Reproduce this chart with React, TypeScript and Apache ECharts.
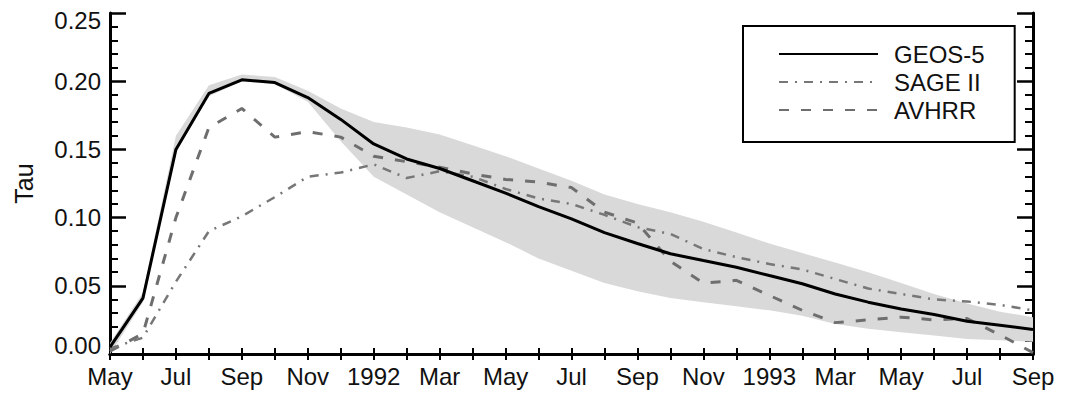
import React, { useEffect, useRef } from "react";
import * as echarts from "echarts";

const months = [
  "May", "Jun", "Jul", "Aug", "Sep", "Oct", "Nov", "Dec",
  "1992", "Feb", "Mar", "Apr", "May", "Jun", "Jul", "Aug", "Sep", "Oct", "Nov", "Dec",
  "1993", "Feb", "Mar", "Apr", "May", "Jun", "Jul", "Aug", "Sep",
];

const geos5 = [
  0.005, 0.041, 0.150, 0.191, 0.201, 0.199, 0.188, 0.172,
  0.154, 0.143, 0.136, 0.127, 0.118, 0.108, 0.099, 0.089, 0.081, 0.0735, 0.0685, 0.0636,
  0.0575, 0.0515, 0.044, 0.038, 0.033, 0.029, 0.024, 0.021, 0.018,
];

const sage2 = [
  0.004, 0.012, 0.053, 0.090, 0.101, 0.115, 0.130, 0.133,
  0.139, 0.129, 0.134, 0.130, 0.121, 0.114, 0.110, 0.102, 0.093, 0.088, 0.077, 0.071,
  0.066, 0.062, 0.055, 0.048, 0.044, 0.040, 0.0385, 0.036, 0.032,
];

const avhrr = [
  0.002, 0.015, 0.100, 0.166, 0.180, 0.159, 0.163, 0.159,
  0.145, 0.141, 0.137, 0.132, 0.128, 0.126, 0.122, 0.104, 0.096, 0.068, 0.052, 0.054,
  0.043, 0.032, 0.023, 0.025, 0.027, 0.025, 0.026, 0.014, 0.001,
];

const bandLower = [
  0.000, 0.038, 0.148, 0.189, 0.200, 0.198, 0.185, 0.156,
  0.130, 0.117, 0.104, 0.093, 0.082, 0.070, 0.061, 0.052, 0.046, 0.041, 0.038, 0.035,
  0.032, 0.028, 0.022, 0.0185, 0.016, 0.0136, 0.011, 0.010, 0.009,
];

const bandUpper = [
  0.008, 0.045, 0.160, 0.197, 0.205, 0.203, 0.193, 0.180,
  0.170, 0.166, 0.161, 0.153, 0.145, 0.136, 0.127, 0.117, 0.110, 0.104, 0.097, 0.089,
  0.081, 0.074, 0.067, 0.060, 0.052, 0.044, 0.037, 0.031, 0.027,
];

const FONT = "'Liberation Sans', Arial, Helvetica, sans-serif";

export default function App() {
  const ref = useRef<HTMLDivElement>(null);

  useEffect(() => {
    if (!ref.current) return;
    const chart = echarts.init(ref.current, undefined, { renderer: "svg" });
    const bandDiff = bandUpper.map((u, i) => +(u - bandLower[i]).toFixed(4));

    const option: any = {
      animation: false,
      backgroundColor: "#ffffff",
      textStyle: { fontFamily: FONT },
      grid: { left: 110, right: 36, top: 13, bottom: 43, containLabel: false },
      legend: {
        orient: "vertical",
        left: 743,
        top: 26,
        data: ["GEOS-5", "SAGE II", "AVHRR"],
        itemWidth: 99,
        itemHeight: 14,
        itemGap: 0,
        padding: [14, 30, 18, 35],
        borderColor: "#000",
        borderWidth: 2,
        borderRadius: 0,
        selectedMode: false,
        itemStyle: { opacity: 0, borderWidth: 0 },
        textStyle: {
          fontFamily: FONT,
          fontSize: 24,
          lineHeight: 28,
          color: "#111",
          padding: [0, 0, 0, 11],
        },
      },
      xAxis: [
        {
          type: "category",
          data: months,
          boundaryGap: false,
          position: "bottom",
          axisLine: { lineStyle: { color: "#000", width: 3 } },
          axisTick: { inside: true, length: 6, interval: 0, lineStyle: { width: 2, color: "#000" } },
          axisLabel: {
            interval: 1,
            margin: 10,
            fontSize: 24,
            fontFamily: FONT,
            color: "#111",
          },
          splitLine: { show: false },
        },
        {
          type: "category",
          data: months,
          boundaryGap: false,
          position: "top",
          axisLine: { lineStyle: { color: "#000", width: 3 } },
          axisTick: { inside: true, length: 6, interval: 0, lineStyle: { width: 2, color: "#000" } },
          axisLabel: { show: false },
          splitLine: { show: false },
        },
      ],
      yAxis: [
        {
          type: "value",
          min: 0,
          max: 0.25,
          interval: 0.05,
          position: "left",
          name: "Tau",
          nameLocation: "middle",
          nameGap: 74,
          nameRotate: 90,
          nameTextStyle: { fontSize: 25, fontFamily: FONT, color: "#111" },
          axisLine: { show: true, lineStyle: { color: "#000", width: 3 } },
          axisTick: { show: true, inside: true, length: 16, lineStyle: { width: 2.5, color: "#000" } },
          minorTick: { show: true, splitNumber: 5, length: 8, lineStyle: { width: 2, color: "#000" } },
          axisLabel: {
            margin: 9,
            fontSize: 24,
            fontFamily: FONT,
            color: "#111",
            formatter: (v: number) => {
              const s = v.toFixed(2);
              if (v === 0) return "{low|" + s + "}";
              if (Math.abs(v - 0.25) < 1e-9) return "{high|" + s + "}";
              return s;
            },
            rich: {
              low: { fontSize: 24, fontFamily: FONT, color: "#111", padding: [0, 0, 17, 0] },
              high: { fontSize: 24, fontFamily: FONT, color: "#111", padding: [15, 0, 0, 0] },
            },
          },
          splitLine: { show: false },
        },
        {
          type: "value",
          min: 0,
          max: 0.25,
          interval: 0.05,
          position: "right",
          axisLine: { show: true, lineStyle: { color: "#000", width: 3 } },
          axisTick: { show: true, inside: true, length: 16, lineStyle: { width: 2.5, color: "#000" } },
          minorTick: { show: true, splitNumber: 5, length: 8, lineStyle: { width: 2, color: "#000" } },
          axisLabel: { show: false },
          splitLine: { show: false },
        },
      ],
      series: [
        {
          name: "bandBase",
          type: "line",
          data: bandLower,
          stack: "band",
          symbol: "none",
          silent: true,
          lineStyle: { opacity: 0, width: 0 },
          z: 1,
        },
        {
          name: "bandFill",
          type: "line",
          data: bandDiff,
          stack: "band",
          symbol: "none",
          silent: true,
          lineStyle: { opacity: 0, width: 0 },
          areaStyle: { color: "#d9d9d9", opacity: 1 },
          z: 1,
        },
        {
          name: "AVHRR",
          type: "line",
          data: avhrr,
          symbol: "none",
          lineStyle: { color: "#6e6e6e", width: 3, type: [10, 12] },
          itemStyle: { color: "#6e6e6e" },
          z: 3,
        },
        {
          name: "SAGE II",
          type: "line",
          data: sage2,
          symbol: "none",
          lineStyle: { color: "#777777", width: 2.5, type: [9, 7, 2, 7] },
          itemStyle: { color: "#777777" },
          z: 3,
        },
        {
          name: "GEOS-5",
          type: "line",
          data: geos5,
          symbol: "none",
          lineStyle: { color: "#000000", width: 3 },
          itemStyle: { color: "#000000" },
          z: 4,
        },
      ],
    };

    chart.setOption(option);
    return () => chart.dispose();
  }, []);

  return (
    <div
      ref={ref}
      style={{ position: "fixed", left: 0, top: 0, width: 1069, height: 397, background: "#fff" }}
    />
  );
}
